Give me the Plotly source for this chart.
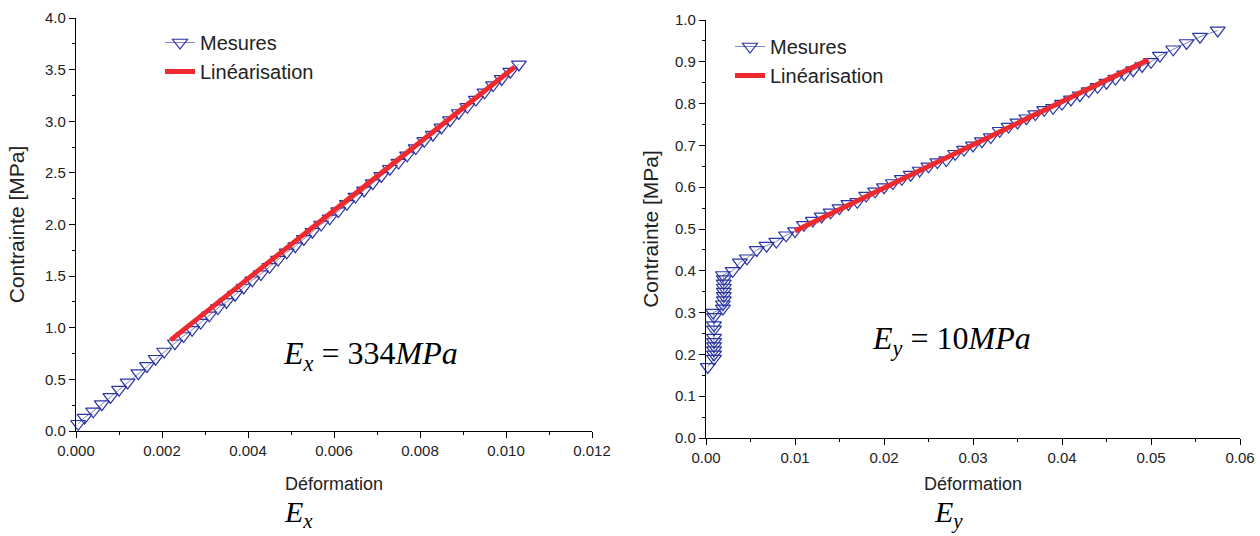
import plotly.graph_objects as go

# ---------------- data: left panel (E_x) ----------------
ex_strain = [0.00005, 0.0002, 0.0004, 0.0006, 0.0008, 0.0010, 0.0012, 0.00145, 0.00165,
             0.00185, 0.00205, 0.0023,
             0.0025, 0.0027, 0.0029, 0.0031, 0.0033, 0.0035, 0.0037, 0.0039, 0.0041, 0.0043,
             0.0045, 0.0047, 0.0049, 0.0051, 0.0053, 0.0055, 0.0057, 0.0059, 0.0061, 0.0063,
             0.0065, 0.0067, 0.0069, 0.0071, 0.0073, 0.0075, 0.0077, 0.0079, 0.0081, 0.0083,
             0.0085, 0.0087, 0.0089, 0.0091, 0.0093, 0.0095, 0.0097, 0.0099, 0.0101, 0.0103]
ex_stress = [0.07, 0.13, 0.19, 0.26, 0.33, 0.40, 0.47, 0.56, 0.63, 0.70, 0.77, 0.85,
             0.92, 0.98, 1.05, 1.12, 1.19, 1.25, 1.32, 1.39, 1.46, 1.52, 1.59, 1.66, 1.73,
             1.79, 1.86, 1.93, 2.00, 2.06, 2.13, 2.20, 2.27, 2.33, 2.40, 2.47, 2.54, 2.60,
             2.67, 2.74, 2.81, 2.87, 2.94, 3.01, 3.08, 3.14, 3.21, 3.28, 3.35, 3.41, 3.48, 3.55]
ex_fit_strain = [0.0022, 0.0102]
ex_fit_stress = [0.88, 3.525]

# ---------------- data: right panel (E_y) ----------------
ey_strain = [0.0002, 0.0009, 0.0009, 0.0009, 0.0009, 0.0009, 0.0009, 0.0009, 0.0009, 0.0009,
             0.0008, 0.0019, 0.0019, 0.0020, 0.0020, 0.0020, 0.0020, 0.0020, 0.0020, 0.0019,
             0.0030, 0.0038, 0.0046, 0.0057, 0.0068, 0.0079, 0.0090, 0.0100,
             0.011, 0.012, 0.013, 0.014, 0.015, 0.016, 0.017, 0.018, 0.019, 0.020,
             0.021, 0.022, 0.023, 0.024, 0.025, 0.026, 0.027, 0.028, 0.029, 0.030,
             0.031, 0.032, 0.033, 0.034, 0.035, 0.036, 0.037, 0.038, 0.039, 0.040,
             0.041, 0.042, 0.043, 0.044, 0.045, 0.046, 0.047, 0.048, 0.049, 0.050,
             0.051, 0.0525, 0.054, 0.0555, 0.0575]
ey_stress = [0.17, 0.19, 0.20, 0.21, 0.22, 0.23, 0.24, 0.26, 0.27, 0.29,
             0.30, 0.31, 0.32, 0.33, 0.34, 0.35, 0.36, 0.37, 0.38, 0.39,
             0.40, 0.42, 0.43, 0.45, 0.46, 0.47, 0.485, 0.495,
             0.51, 0.52, 0.53, 0.54, 0.55, 0.56, 0.565, 0.58, 0.59, 0.60,
             0.61, 0.62, 0.63, 0.64, 0.65, 0.66, 0.665, 0.68, 0.69, 0.70,
             0.71, 0.72, 0.735, 0.745, 0.755, 0.765, 0.775, 0.785, 0.79, 0.80,
             0.81, 0.82, 0.83, 0.84, 0.85, 0.86, 0.87, 0.88, 0.89, 0.90,
             0.915, 0.93, 0.945, 0.96, 0.975]
ey_fit_strain = [0.0100, 0.0497]
ey_fit_stress = [0.495, 0.905]

left_xticks = [0.000, 0.002, 0.004, 0.006, 0.008, 0.010, 0.012]
left_yticks = [0.0, 0.5, 1.0, 1.5, 2.0, 2.5, 3.0, 3.5, 4.0]
right_xticks = [0.00, 0.01, 0.02, 0.03, 0.04, 0.05, 0.06]
right_yticks = [0.0, 0.1, 0.2, 0.3, 0.4, 0.5, 0.6, 0.7, 0.8, 0.9, 1.0]

NAVY = "#2b35a3"
RED = "#ee2a2e"
FONT = "Liberation Sans, Arial, sans-serif"
SERIF = "Liberation Serif, Times New Roman, serif"
W, H = 1260, 536

fig = go.Figure()

marker = dict(symbol="triangle-down-open", size=13, color=NAVY, line=dict(width=1.2, color=NAVY))

fig.add_trace(go.Scatter(x=ex_strain, y=ex_stress, mode="lines+markers", name="Mesures",
                         line=dict(color=NAVY, width=0.6), marker=marker,
                         xaxis="x", yaxis="y", legend="legend", cliponaxis=False))
fig.add_trace(go.Scatter(x=ex_fit_strain, y=ex_fit_stress, mode="lines", name="Linéarisation",
                         line=dict(color=RED, width=5),
                         xaxis="x", yaxis="y", legend="legend"))
fig.add_trace(go.Scatter(x=ey_strain, y=ey_stress, mode="lines+markers", name="Mesures",
                         line=dict(color=NAVY, width=0.6), marker=marker,
                         xaxis="x2", yaxis="y2", legend="legend2", cliponaxis=False))
fig.add_trace(go.Scatter(x=ey_fit_strain, y=ey_fit_stress, mode="lines", name="Linéarisation",
                         line=dict(color=RED, width=5),
                         xaxis="x2", yaxis="y2", legend="legend2"))

def axis_common(title_size):
    return dict(showline=True, linecolor="black", linewidth=1.2, ticks="outside",
                ticklen=6, tickwidth=1.2, tickcolor="black", showgrid=False, zeroline=False,
                tickfont=dict(family=FONT, size=15, color="#222"),
                title_font=dict(family=FONT, size=title_size, color="#222"),
                automargin=False)

fig.update_layout(
    width=W, height=H,
    margin=dict(l=0, r=0, t=0, b=0),
    paper_bgcolor="white", plot_bgcolor="white",
    font=dict(family=FONT, color="#222"),
    xaxis=dict(domain=[76/W, 592/W], range=[0, 0.012], tickvals=left_xticks,
               tickformat=".3f", title=dict(text="Déformation", standoff=19),
               minor=dict(ticks="outside", ticklen=3, tickcolor="black", dtick=0.001, tick0=0),
               anchor="y", **axis_common(18)),
    yaxis=dict(domain=[1 - 431/H, 1 - 18/H], range=[0, 4.0], tickvals=left_yticks,
               tickformat=".1f", title=dict(text="Contrainte [MPa]", standoff=14),
               minor=dict(ticks="outside", ticklen=3, tickcolor="black", dtick=0.25, tick0=0),
               anchor="x", **axis_common(21)),
    xaxis2=dict(domain=[706/W, 1240/W], range=[0, 0.06], tickvals=right_xticks,
                tickformat=".2f", title=dict(text="Déformation", standoff=12),
                minor=dict(ticks="outside", ticklen=3, tickcolor="black", dtick=0.005, tick0=0),
                anchor="y2", **axis_common(18)),
    yaxis2=dict(domain=[1 - 438/H, 1 - 20/H], range=[0, 1.0], tickvals=right_yticks,
                tickformat=".1f", title=dict(text="Contrainte [MPa]", standoff=10),
                minor=dict(ticks="outside", ticklen=3, tickcolor="black", dtick=0.05, tick0=0),
                anchor="x2", **axis_common(21)),
    legend=dict(x=160/W, y=1 - 23/H, xanchor="left", yanchor="top",
                bgcolor="rgba(0,0,0,0)", font=dict(family=FONT, size=20, color="#222"),
                tracegroupgap=0, itemwidth=30),
    legend2=dict(x=730/W, y=1 - 27/H, xanchor="left", yanchor="top",
                 bgcolor="rgba(0,0,0,0)", font=dict(family=FONT, size=20, color="#222"),
                 tracegroupgap=0, itemwidth=30),
    showlegend=True,
)

annotations = [
    dict(text="<i>E</i><sub><i>x</i></sub> = 334<i>MPa</i>", x=370/W, y=1 - 355/H,
         xref="paper", yref="paper", showarrow=False, xanchor="center", yanchor="middle",
         font=dict(family=SERIF, size=32, color="black")),
    dict(text="<i>E</i><sub><i>y</i></sub> = 10<i>MPa</i>", x=951/W, y=1 - 340/H,
         xref="paper", yref="paper", showarrow=False, xanchor="center", yanchor="middle",
         font=dict(family=SERIF, size=32, color="black")),
    dict(text="<i>E</i><sub><i>x</i></sub>", x=298/W, y=1 - 514/H,
         xref="paper", yref="paper", showarrow=False, xanchor="center", yanchor="middle",
         font=dict(family=SERIF, size=30, color="black")),
    dict(text="<i>E</i><sub><i>y</i></sub>", x=948/W, y=1 - 514/H,
         xref="paper", yref="paper", showarrow=False, xanchor="center", yanchor="middle",
         font=dict(family=SERIF, size=30, color="black")),
]
fig.update_layout(annotations=annotations)

fig.write_html("out.html", config={"displayModeBar": False},
               post_script="document.body.style.margin='0';document.body.style.overflow='hidden';")
